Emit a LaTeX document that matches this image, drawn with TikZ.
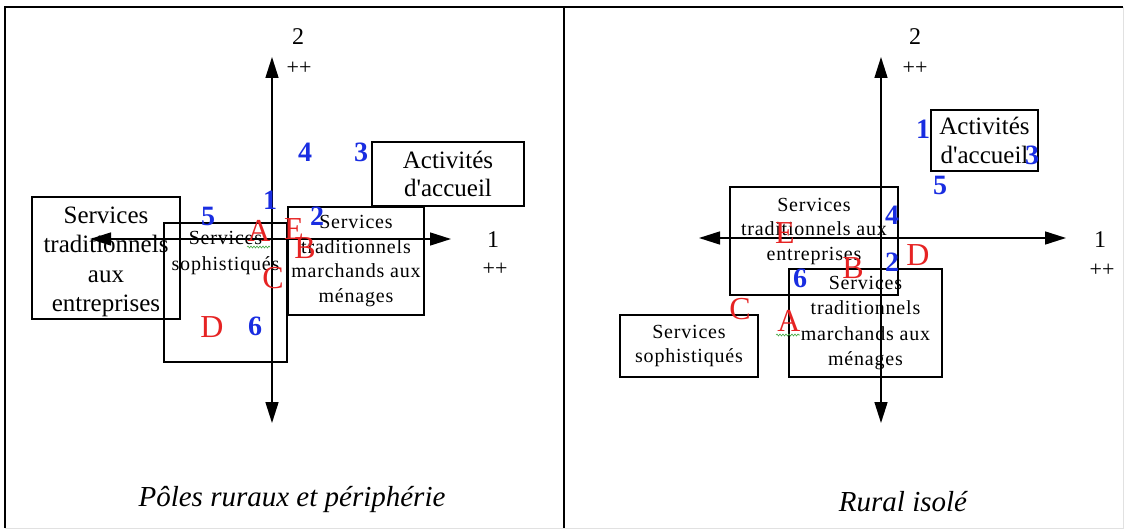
\documentclass[tikz,border=0pt]{standalone}
\usepackage{fontspec}
\setmainfont{Liberation Serif}
\newfontfamily\plainserif{Liberation Serif}
\newfontfamily\spacedserif[LetterSpace=4]{Liberation Serif}
\usetikzlibrary{arrows.meta,decorations.pathmorphing}
\definecolor{numblue}{RGB}{25,45,225}
\definecolor{letred}{RGB}{230,35,35}
\definecolor{squig}{RGB}{70,170,70}
\definecolor{faint}{RGB}{225,225,225}
\begin{document}
\begin{tikzpicture}[x=1pt,y=-1pt,
  bx/.style={draw, line width=1.3pt, inner sep=0pt},
  bigtxt/.style={font=\plainserif\fontsize{25}{29}\selectfont, align=center, inner sep=0pt},
  smalltxt/.style={font=\spacedserif\fontsize{20}{24.5}\selectfont, align=center, inner sep=0pt},
  bnum/.style={font=\plainserif\bfseries\fontsize{28}{28}\selectfont, text=numblue, inner sep=0pt},
  rlet/.style={font=\plainserif\fontsize{32}{32}\selectfont, text=letred, inner sep=0pt},
  axlab/.style={font=\plainserif\fontsize{24}{24}\selectfont, inner sep=0pt},
  pp/.style={font=\plainserif\fontsize{22}{22}\selectfont, inner sep=0pt},
  ttl/.style={font=\plainserif\itshape\fontsize{29}{29}\selectfont, inner sep=0pt},
  axisline/.style={line width=1.5pt, {Triangle[length=21pt,width=13pt]}-{Triangle[length=21pt,width=13pt]}},
  squiggle/.style={draw=squig, line width=0.6pt, decorate, decoration={snake, amplitude=1pt, segment length=3pt}}
]
\useasboundingbox (0,0) rectangle (1128,532);
% frame
\coordinate (fTL) at (5,7);
\coordinate (fTR) at (1123,7);
\coordinate (fBL) at (5,528);
\coordinate (fBR) at (1123,528);
\coordinate (dT) at (564,7);
\coordinate (dB) at (564,528);
\draw[faint, line width=1pt] (fBL) -- (fBR) -- (fTR);
\draw[line width=1.5pt] (fBL) -- (fTL) -- (fTR);
\draw[line width=1.5pt] (dT) -- (dB);

% ===== Left panel =====
\coordinate (LaxN) at (272,57);
\coordinate (LaxS) at (272,423);
\coordinate (LaxW) at (90,239);
\coordinate (LaxE) at (451,239);
\draw[axisline] (LaxS) -- (LaxN);
\draw[axisline] (LaxW) -- (LaxE);
\node[axlab] (L2) at (298,37) {2};
\node[pp] (Lpp2) at (299,68) {++};
\node[axlab] (L1) at (493,240) {1};
\node[pp] (Lpp1) at (495,269) {++};

\node[bx, minimum width=148pt, minimum height=122pt] (Lent) at (106,258) {};
\node[bigtxt, font=\plainserif\fontsize{25}{29.5}\selectfont] (LentT) at (106,262) {Services\\traditionnels\\aux\\entreprises};
\node[bx, minimum width=123pt, minimum height=139pt] (Lsoph) at (225.5,292.5) {};
\node[smalltxt, anchor=north, font=\spacedserif\fontsize{20}{26}\selectfont] (LsophT) at (225.5,231) {Services\\sophistiqués};
\node[bx, minimum width=136pt, minimum height=108pt, smalltxt] (Lmen) at (356,261) {Services\\traditionnels\\marchands aux\\ménages};
\node[bx, minimum width=152pt, minimum height=64pt, bigtxt, font=\plainserif\fontsize{25}{27.5}\selectfont] (Lacc) at (448,174) {Activités\\d'accueil};

\node[bnum] (Ln4) at (305,152) {4};
\node[bnum] (Ln3) at (361,152) {3};
\node[bnum] (Ln1) at (270,200) {1};
\node[bnum] (Ln5) at (208,216) {5};
\node[bnum] (Ln2) at (317,216) {2};
\node[bnum] (Ln6) at (255,326) {6};
\node[rlet] (LlA) at (259,231) {A};
\node[rlet] (LlE) at (294,229) {E};
\node[rlet] (LlB) at (305,248) {B};
\node[rlet] (LlC) at (273,278) {C};
\node[rlet] (LlD) at (212,327) {D};
\coordinate (LsqA) at (247,247);
\coordinate (LsqB) at (270,247);
\draw[squiggle] (LsqA) -- (LsqB);

\node[ttl] (Ltitle) at (292,500) {Pôles ruraux et périphérie};

% ===== Right panel =====
\coordinate (RaxN) at (881,57);
\coordinate (RaxS) at (881,423);
\coordinate (RaxW) at (699,238);
\coordinate (RaxE) at (1066,238);
\draw[axisline] (RaxS) -- (RaxN);
\draw[axisline] (RaxW) -- (RaxE);
\node[axlab] (R2) at (915,37) {2};
\node[pp] (Rpp2) at (915,68) {++};
\node[axlab] (R1) at (1100,240) {1};
\node[pp] (Rpp1) at (1102,270) {++};

\node[bx, minimum width=107pt, minimum height=61pt, bigtxt, font=\plainserif\fontsize{25}{29}\selectfont] (Racc) at (984.5,140.5) {Activités\\d'accueil};
\node[bx, minimum width=168pt, minimum height=108pt] (Rent) at (814,241) {};
\node[smalltxt, anchor=north] (RentT) at (814,198) {Services\\traditionnels aux\\entreprises};
\node[bx, minimum width=153pt, minimum height=108pt, smalltxt, font=\spacedserif\fontsize{20}{25.3}\selectfont] (Rmen) at (865.5,323) {Services\\traditionnels\\marchands aux\\ménages};
\node[bx, minimum width=138pt, minimum height=62pt, smalltxt] (Rsoph) at (689,346) {Services\\sophistiqués};

\node[bnum] (Rn1) at (923,129) {1};
\node[bnum] (Rn3) at (1032,155) {3};
\node[bnum] (Rn5) at (940,185) {5};
\node[bnum] (Rn4) at (892,215) {4};
\node[bnum] (Rn2) at (892,262) {2};
\node[bnum] (Rn6) at (800,278) {6};
\node[rlet] (RlE) at (785,233) {E};
\node[rlet] (RlD) at (918,255) {D};
\node[rlet] (RlB) at (853,268) {B};
\node[rlet] (RlC) at (740,309) {C};
\node[rlet] (RlA) at (789,321) {A};
\coordinate (RsqA) at (776,335);
\coordinate (RsqB) at (800,335);
\draw[squiggle] (RsqA) -- (RsqB);

\node[ttl] (Rtitle) at (903,502) {Rural isolé};
\end{tikzpicture}
\end{document}
